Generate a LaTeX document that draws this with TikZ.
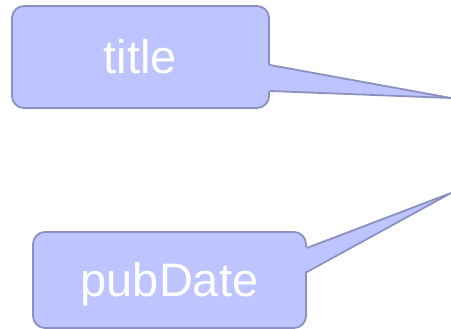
\documentclass[tikz,border=0pt]{standalone}
\usepackage{fontspec}
\setmainfont{Liberation Sans}
\definecolor{calloutfill}{HTML}{BEC4FF}
\definecolor{calloutline}{HTML}{8B90C0}
\begin{document}
\begin{tikzpicture}[x=1pt, y=-1pt, box/.style={draw=calloutline, fill=calloutfill, line width=1.8pt, rounded corners=12pt, inner sep=0pt, text=white, font=\fontsize{47}{56}\selectfont, text height=34pt, text depth=0pt}, pointer/.style={draw=calloutline, line width=1.8pt, line join=round}]
	\useasboundingbox (0,0) rectangle (451,329);
	\node[box, minimum width=257pt, minimum height=102pt] (T) at (140.5,57) {title};
	\node[box, minimum width=273pt, minimum height=96pt] (P) at (169.5,280) {pubDate};
	\coordinate (T1) at (451,98);
	\coordinate (P1) at (451,193);
	\fill[calloutfill] ([xshift=-2.5pt,yshift=-8pt]T.east) -- (T1) -- ([xshift=-2.5pt,yshift=-34pt]T.east) -- cycle;
	\draw[pointer] ([yshift=-8pt]T.east) -- (T1) -- ([yshift=-34pt]T.east);
	\fill[calloutfill] ([xshift=-2.5pt,yshift=32pt]P.east) -- (P1) -- ([xshift=-2.5pt,yshift=8pt]P.east) -- cycle;
	\draw[pointer] ([yshift=32pt]P.east) -- (P1) -- ([yshift=8pt]P.east);
\end{tikzpicture}
\end{document}
